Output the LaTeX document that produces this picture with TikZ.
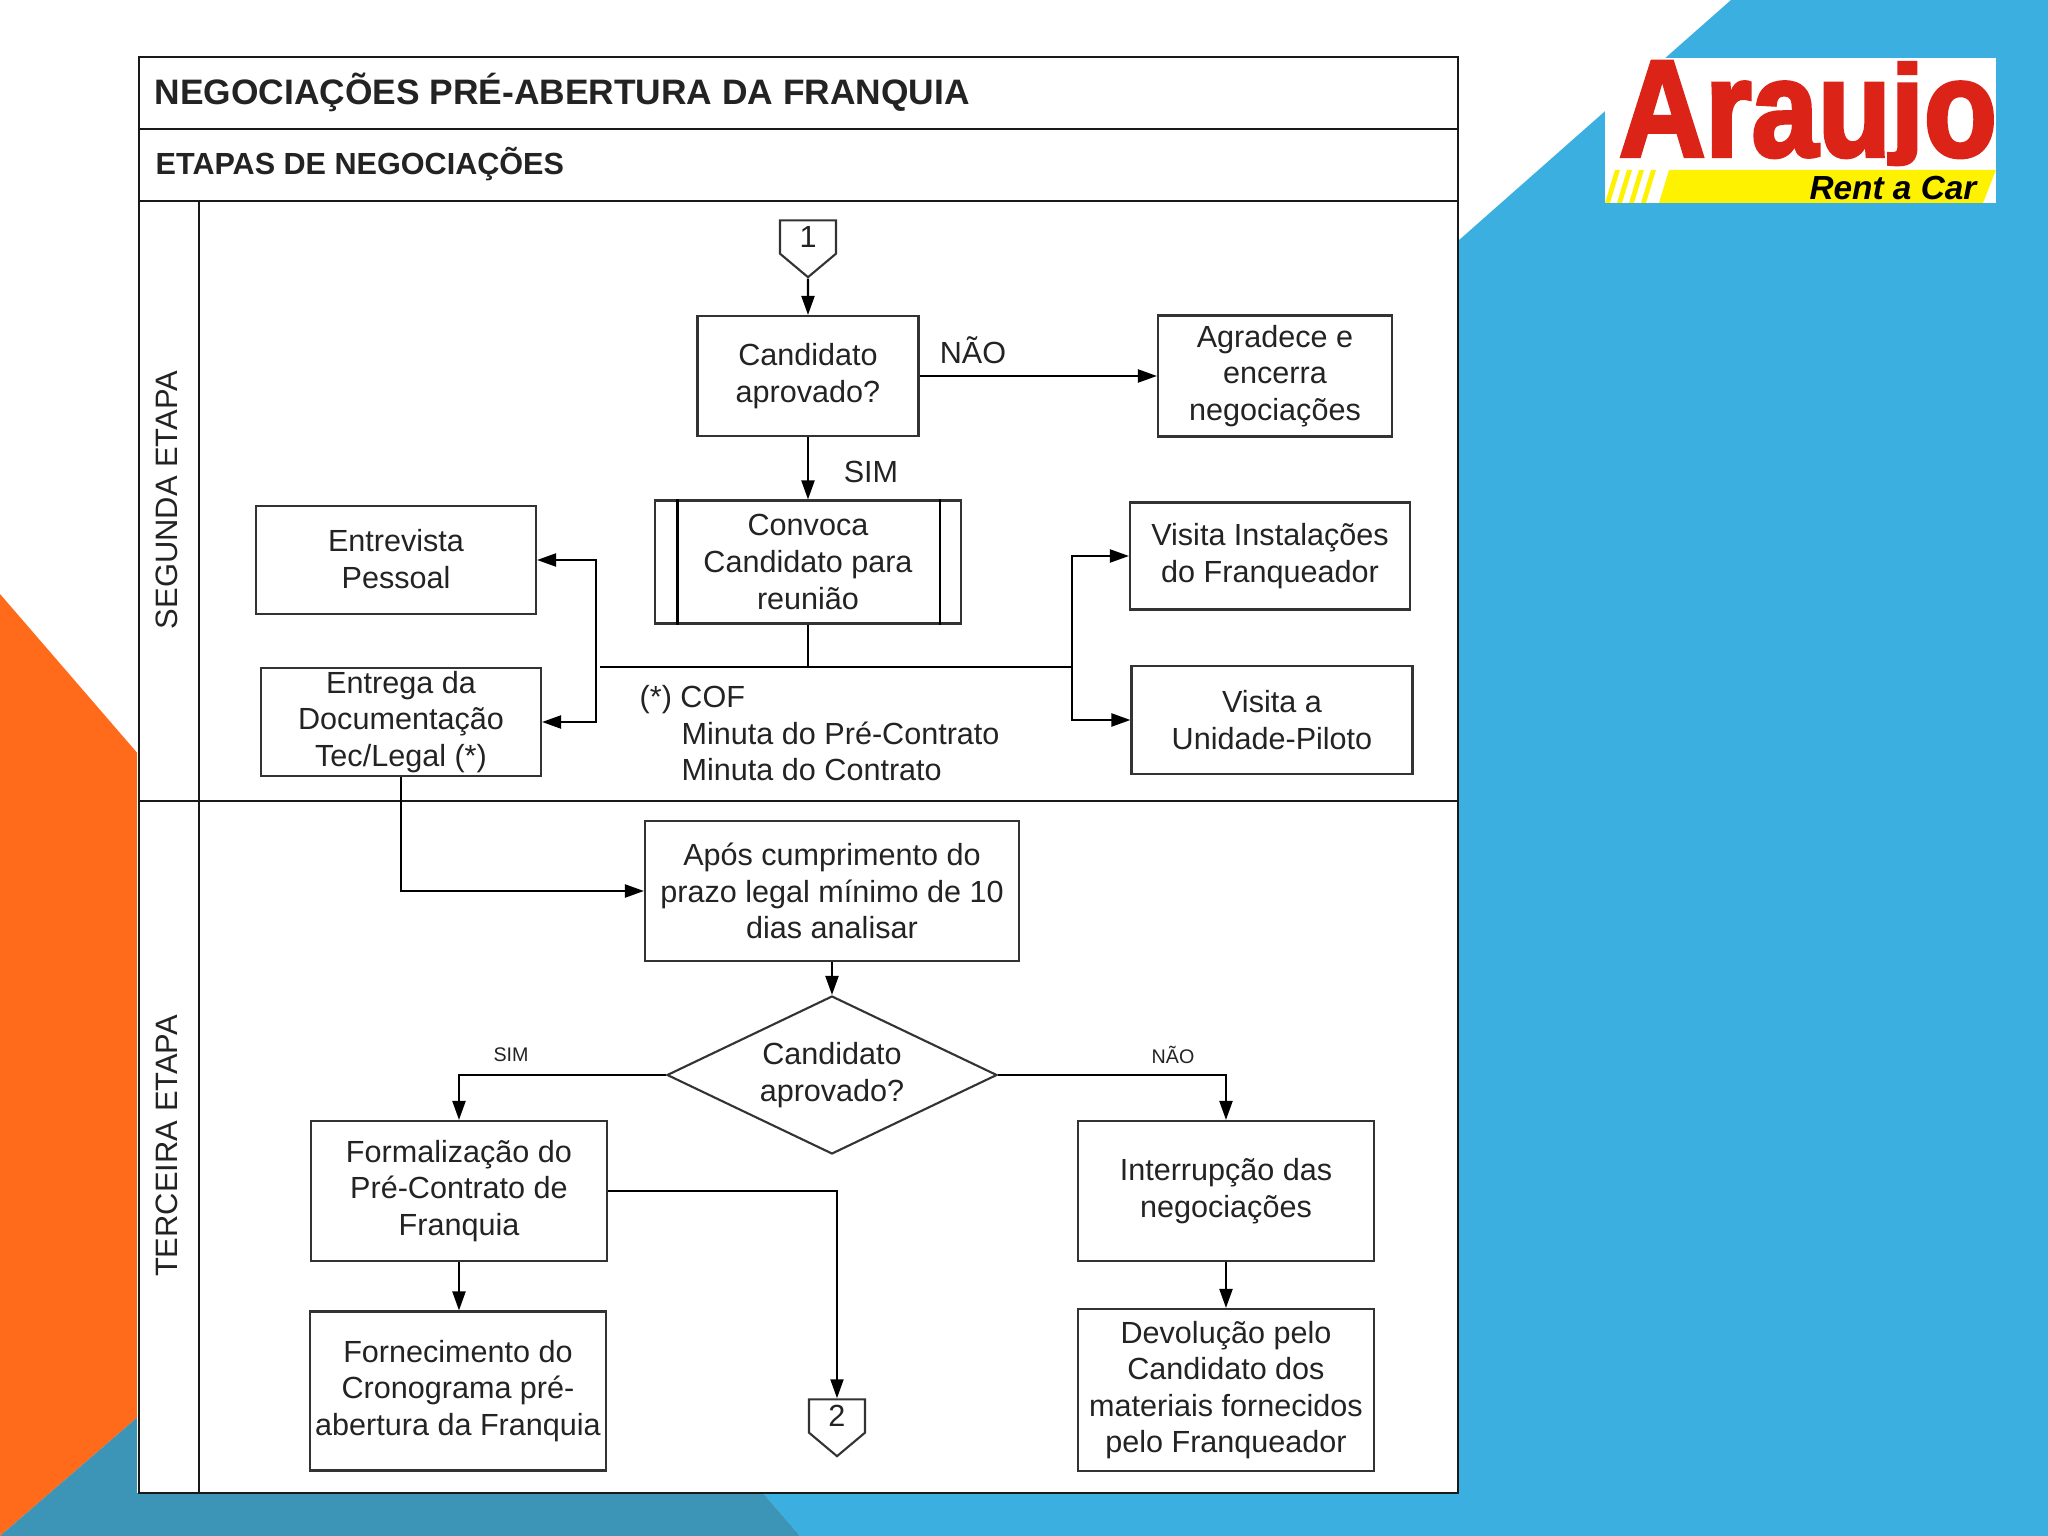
\documentclass[tikz,border=0pt]{standalone}
\usepackage{fontspec}
\setmainfont{Liberation Sans}
\newfontfamily\logofont[BoldFeatures={FakeBold=3}]{Liberation Sans}
\usepackage{tikz}
\usetikzlibrary{shapes.geometric, shapes.symbols, arrows.meta, positioning, calc}
\usepackage{xcolor}
\definecolor{slideblue}{RGB}{59,176,224}
\definecolor{slideorange}{RGB}{255,107,26}
\definecolor{slideteal}{RGB}{60,148,183}
\definecolor{logored}{RGB}{220,35,24}
\definecolor{logoyellow}{RGB}{255,242,0}
\definecolor{inkcolor}{RGB}{35,35,35}

\begin{document}
\begin{tikzpicture}[
    line join=miter,
    lane/.style={draw=black!90, line width=0.65pt},
    block/.style={rectangle, draw=black!80, line width=0.6pt, align=center, inner sep=0pt, text=inkcolor, font=\fontsize{8.7}{10.4}\selectfont},
    decision/.style={diamond, aspect=2.09, draw=black!80, line width=0.6pt, align=center, inner sep=0pt, text=inkcolor, font=\fontsize{8.7}{10.4}\selectfont},
    offpage/.style={signal, signal to=south, signal pointer angle=100, draw=black!80, line width=0.6pt, inner sep=0pt, minimum width=0.56cm, minimum height=0.405cm, text=inkcolor, font=\fontsize{8.7}{10.4}\selectfont},
    label/.style={align=left, inner sep=0pt, text=inkcolor, font=\fontsize{8.7}{10.4}\selectfont},
    smalllabel/.style={inner sep=0pt, text=inkcolor, font=\fontsize{5.6}{7}\selectfont},
    lanelabel/.style={rotate=90, inner sep=0pt, text=inkcolor, font=\fontsize{8.8}{10.4}\selectfont},
    arrow/.style={-{Triangle[length=1.9mm, width=1.3mm]}, line width=0.6pt, draw=black},
    link/.style={line width=0.6pt, draw=black}
]
\useasboundingbox (0,0) rectangle (20.48,-15.36);
\fill[white] (0,0) rectangle (20.48,-15.36);
\fill[slideblue] (17.31,0) -- (20.48,0) -- (20.48,-15.36) -- (8.00,-15.36) -- (7.63,-14.93) -- (14.58,-14.93) -- (14.58,-2.41) -- cycle;
\fill[slideorange] (0,-5.94) -- (1.39,-7.55) -- (1.39,-14.16) -- (0,-15.36) -- cycle;
\fill[slideteal] (1.39,-14.16) -- (0,-15.36) -- (8.00,-15.36) -- (7.63,-14.93) -- (1.39,-14.93) -- cycle;

\fill[white] (16.05,-0.58) rectangle (19.96,-2.03);
\node[anchor=base, inner sep=0pt, text=logored, xscale=0.87, font=\logofont\bfseries\fontsize{39}{39}\selectfont] (logoname) at (18.08,-1.56) {Arau\raisebox{4pt}{\scalebox{1}[0.8]{j}}o};
\fill[logoyellow] (16.69,-1.70) -- (19.96,-1.70) -- (19.83,-2.03) -- (16.59,-2.03) -- cycle;
\foreach \xpos in {16.05,16.17,16.29,16.41} {
    \fill[logoyellow] (\xpos+0.10,-1.70) -- (\xpos+0.15,-1.70) -- (\xpos+0.05,-2.03) -- (\xpos,-2.03) -- cycle;
}
\node[inner sep=0pt, text=black, font=\itshape\bfseries\fontsize{9.5}{11}\selectfont] (logotag) at (18.93,-1.88) {Rent a Car};

\fill[white] (1.37,-0.57) rectangle (14.58,-14.93);
\draw[lane] (1.39,-0.57) rectangle (14.58,-14.93);
\draw[lane] (1.39,-1.29) -- (14.58,-1.29);
\draw[lane] (1.39,-2.01) -- (14.58,-2.01);
\draw[lane] (1.39,-8.01) -- (14.58,-8.01);
\draw[lane] (1.99,-2.01) -- (1.99,-14.93);

\node[anchor=west, inner sep=0pt, text=inkcolor, font=\bfseries\fontsize{10.06}{12}\selectfont] (title) at (1.54,-0.92) {NEGOCIAÇÕES PRÉ-ABERTURA DA FRANQUIA};
\node[anchor=west, inner sep=0pt, text=inkcolor, font=\bfseries\fontsize{8.7}{10}\selectfont] (subtitle) at (1.55,-1.64) {ETAPAS DE NEGOCIAÇÕES};
\node[lanelabel] (lanetwo) at (1.67,-5.00) {SEGUNDA ETAPA};
\node[lanelabel] (lanethree) at (1.67,-11.46) {TERCEIRA ETAPA};

\node[offpage] (connone) at (8.08,-2.37) {\raisebox{-0.7pt}{1}};
\node[block, minimum width=2.21cm, minimum height=1.20cm] (cand) at (8.08,-3.76) {Candidato\\aprovado?};
\node[block, minimum width=2.34cm, minimum height=1.21cm] (thanks) at (12.75,-3.76) {Agradece e\\encerra\\negociações};
\node[block, minimum width=3.06cm, minimum height=1.23cm] (call) at (8.08,-5.62) {Convoca\\Candidato para\\reunião};
\node[block, minimum width=2.80cm, minimum height=1.08cm] (talk) at (3.96,-5.60) {\raisebox{0.6pt}{Entrevista}\\\raisebox{0.6pt}{Pessoal}};
\node[block, minimum width=2.80cm, minimum height=1.08cm] (docs) at (4.01,-7.22) {Entrega da\\Documentação\\Tec/Legal (*)};
\node[block, minimum width=2.80cm, minimum height=1.07cm] (visitone) at (12.70,-5.56) {Visita Instalações\\do Franqueador};
\node[block, minimum width=2.81cm, minimum height=1.08cm] (visittwo) at (12.72,-7.20) {Visita a\\Unidade-Piloto};

\draw[link] ($(call.north west)+(0.235,0)$) -- ($(call.south west)+(0.235,0)$);
\draw[link] ($(call.north east)-(0.22,0)$) -- ($(call.south east)-(0.22,0)$);

\node[smalllabel, font=\fontsize{8.7}{10.4}\selectfont] (no) at (9.73,-3.50) {NÃO};
\node[smalllabel, font=\fontsize{8.7}{10.4}\selectfont] (yes) at (8.71,-4.72) {SIM};
\node[label, anchor=north west] (note) at (6.39,-6.85) {(*) COF\\\hspace{0.42cm}Minuta do Pré-Contrato\\\hspace{0.42cm}Minuta do Contrato};

\node[block, minimum width=3.74cm, minimum height=1.40cm] (wait) at (8.32,-8.91) {Após cumprimento do\\prazo legal mínimo de 10\\dias analisar};
\node[decision, minimum width=3.30cm, minimum height=1.58cm] (dec) at (8.32,-10.75) {Candidato\\aprovado?};
\node[block, minimum width=2.96cm, minimum height=1.40cm] (formal) at (4.59,-11.91) {Formalização do\\Pré-Contrato de\\Franquia};
\node[block, minimum width=2.96cm, minimum height=1.40cm] (stop) at (12.26,-11.91) {Interrupção das\\negociações};
\node[block, minimum width=2.96cm, minimum height=1.59cm] (sched) at (4.58,-13.91) {Fornecimento do\\Cronograma pré-\\abertura da Franquia};
\node[block, minimum width=2.96cm, minimum height=1.62cm] (back) at (12.26,-13.90) {Devolução pelo\\Candidato dos\\materiais fornecidos\\pelo Franqueador};
\node[offpage] (conntwo) at (8.37,-14.16) {\raisebox{-0.4pt}{2}};

\node[smalllabel] (yestwo) at (5.11,-10.55) {SIM};
\node[smalllabel] (notwo) at (11.73,-10.55) {NÃO};

\coordinate (busl) at (6.00,-6.67);
\coordinate (busr) at (10.72,-6.67);
\coordinate (splitl) at (5.96,-6.67);

\draw[arrow] (connone) -- (cand);
\draw[arrow] (cand) -- (thanks);
\draw[arrow] (cand) -- (call);
\draw[link] (call.south) -- (call.south |- busl);
\draw[link] (busl) -- (busr);
\draw[arrow] (splitl) |- (talk.east);
\draw[arrow] (splitl) |- (docs.east);
\draw[arrow] (busr) |- (visitone.west);
\draw[arrow] (busr) |- (visittwo.west);
\draw[arrow] (docs.south) |- (wait.west);
\draw[arrow] (wait) -- (dec);
\draw[arrow] (dec.west) -| (formal.north);
\draw[arrow] (dec.east) -| (stop.north);
\draw[arrow] (formal.east) -| (conntwo.north);
\draw[arrow] (formal.south) -- (formal.south |- sched.north);
\draw[arrow] (stop) -- (back);
\end{tikzpicture}
\end{document}
